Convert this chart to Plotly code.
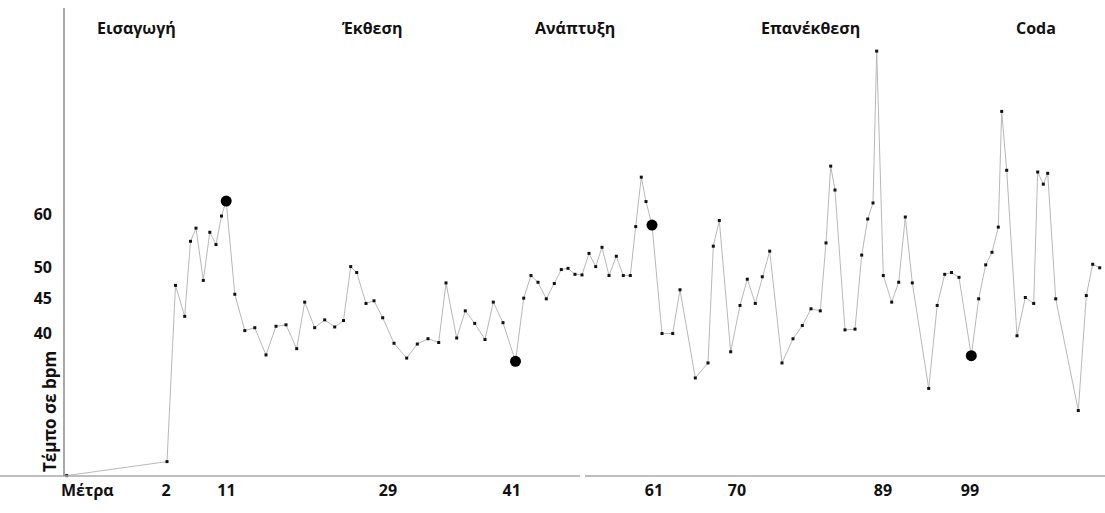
import plotly.graph_objects as go

# time position of each measured beat (arbitrary time units) and tempo in bpm
time_pos = [
    1.7, 102, 110.5, 119.7, 125.5, 131, 138.3, 144.8, 151, 156.5,
    161.2, 169.8, 179.8, 189.8, 201, 211, 221, 231.7, 239.7, 249.7,
    259.7, 269.7, 278.5, 285.7, 291.7, 301, 309, 317.7, 329, 341.7,
    352.3, 363, 373.7, 381, 391.7, 400.3, 409.7, 420, 428.3, 438,
    450.5, 458.7, 466, 473, 481.3, 489.3, 496.3, 503, 510, 517,
    524, 530.7, 537, 544, 551.3, 558.3, 565.3, 570.7, 576.3, 581,
    587, 597, 607.7, 615, 630.3, 643, 648.3, 654.3, 665.7, 675,
    682.3, 690.3, 697.3, 704.7, 717, 728, 737.3, 746, 755.3, 761,
    765.7, 770, 780, 790, 796.7, 802.7, 808, 811.7, 818.3, 826.7,
    833.7, 840.3, 847.3, 863.7, 872.2, 879.7, 886.5, 894, 906.3, 913.7,
    920.7, 927, 933.3, 936.7, 941.7, 952, 960.3, 968.7, 972.7, 978.3,
    982.7, 990.7, 1013.3, 1021.3, 1027.7, 1034.7,
]
tempo_bpm = [
    24.7, 25.9, 47.1, 42.4, 54.7, 57.2, 47.9, 56.4, 54.1, 59.6,
    62.7, 45.7, 40.4, 40.8, 37.2, 41.0, 41.2, 38.0, 44.5, 40.8,
    41.9, 40.9, 41.8, 50.2, 49.2, 44.3, 44.7, 42.2, 38.7, 36.8,
    38.6, 39.3, 38.8, 47.5, 39.4, 43.2, 41.4, 39.2, 44.5, 41.5,
    36.4, 45.1, 48.7, 47.6, 45.0, 47.4, 49.7, 49.9, 48.9, 48.8,
    52.5, 50.2, 53.6, 48.7, 52.0, 48.7, 48.7, 57.5, 68.0, 62.6,
    57.8, 40.0, 40.0, 46.4, 34.4, 36.2, 53.8, 58.7, 37.6, 44.0,
    48.1, 44.3, 48.5, 52.9, 36.2, 39.3, 41.1, 43.5, 43.2, 54.4,
    70.6, 65.1, 40.5, 40.6, 52.2, 59.0, 62.3, 104.3, 48.7, 44.5,
    47.6, 59.4, 47.5, 33.2, 44.0, 48.9, 49.2, 48.4, 37.1, 45.0,
    50.5, 52.7, 57.4, 85.0, 69.6, 39.7, 45.2, 44.3, 69.2, 66.4,
    68.9, 45.0, 30.8, 45.5, 50.6, 50.0,
]
highlight_idx = [10, 40, 60, 98]

measure_pos = [22.3, 101, 161.5, 323, 446.7, 589, 672, 818, 905]
measure_text = ["Μέτρα", "2", "11", "29", "41", "61", "70", "89", "99"]

tempo_ticks = [40, 45, 50, 60]

section_names = ["Εισαγωγή", "Έκθεση", "Ανάπτυξη", "Επανέκθεση", "Coda"]
section_pos = [71, 307, 510, 745, 971]

FONT = "Open Sans"
W, H = 1040, 476

fig = go.Figure()
fig.add_trace(go.Scatter(
    x=time_pos, y=tempo_bpm, mode="lines+markers",
    line=dict(color="#b8b8b8", width=1),
    marker=dict(symbol="square", size=3, color="#111111"),
    cliponaxis=False, showlegend=False, hoverinfo="skip",
))
fig.add_trace(go.Scatter(
    x=[time_pos[i] for i in highlight_idx],
    y=[tempo_bpm[i] for i in highlight_idx],
    mode="markers", marker=dict(size=11, color="#000000"),
    cliponaxis=False, showlegend=False, hoverinfo="skip",
))

for name, xp in zip(section_names, section_pos):
    fig.add_annotation(x=xp, y=1 - 28 / H, xref="x", yref="paper",
                       xanchor="center", yanchor="middle",
                       text=f"<b>{name}</b>", showarrow=False,
                       font=dict(family=FONT, size=16, color="#111111"))

fig.add_annotation(x=-16 / W, y=(H - 412) / H, xref="paper", yref="paper",
                   xanchor="center", yanchor="middle",
                   text="<b>Τέμπο σε bpm</b>", textangle=-90, showarrow=False,
                   font=dict(family=FONT, size=17, color="#111111"))

# axis lines
fig.add_shape(type="line", xref="paper", yref="paper",
              x0=-65 / W, x1=(580 - 65) / W, y0=0, y1=0,
              line=dict(color="#a8a8a8", width=1.5))
fig.add_shape(type="line", xref="paper", yref="paper",
              x0=(585 - 65) / W, x1=1.0, y0=0, y1=0,
              line=dict(color="#a8a8a8", width=1.5))
fig.add_shape(type="line", xref="paper", yref="paper",
              x0=-1 / W, x1=-1 / W, y0=0, y1=(H - 8) / H,
              line=dict(color="#8a8a8a", width=1.5))

fig.update_layout(
    width=1105, height=513,
    margin=dict(l=65, r=0, t=0, b=37),
    paper_bgcolor="white", plot_bgcolor="white",
    font=dict(family=FONT, size=16, color="#111111"),
    xaxis=dict(range=[0, 1040], showgrid=False, zeroline=False, showline=False,
               tickmode="array", tickvals=measure_pos,
               ticktext=[f"<b>{t}</b>" for t in measure_text],
               ticks="", ticklabelstandoff=3,
               tickfont=dict(family=FONT, size=16, color="#111111")),
    yaxis=dict(type="log", range=[1.3921, 2.0936], showgrid=False, zeroline=False,
               showline=False, tickmode="array", tickvals=tempo_ticks,
               ticktext=[f"<b>{t}</b>" for t in tempo_ticks],
               ticks="", ticklabelstandoff=12,
               tickfont=dict(family=FONT, size=16, color="#111111")),
)

fig.write_html("out.html", config={"displayModeBar": False},
               post_script="document.body.style.margin='0';document.body.style.overflow='hidden';")
